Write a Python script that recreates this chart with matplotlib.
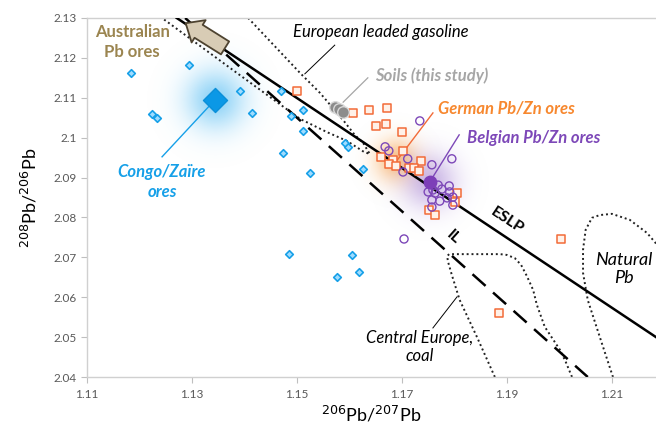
import numpy as np
import matplotlib
matplotlib.use("Agg")
import matplotlib.pyplot as plt
from matplotlib.ticker import FormatStrFormatter

plt.rcParams['font.family'] = ['Lato', 'DejaVu Sans']

# Congo / Zaire ores (206/207, 208/206)
congo_x = [1.1184, 1.1294, 1.1224, 1.1233, 1.1391, 1.1414, 1.1470, 1.1511, 1.1489, 1.1511,
           1.1473, 1.1525, 1.1591, 1.1597, 1.1626, 1.1485, 1.1605, 1.1576, 1.1618]
congo_y = [2.1162, 2.1182, 2.1059, 2.1049, 2.1117, 2.1062, 2.1117, 2.1069, 2.1054, 2.1017,
           2.0962, 2.0912, 2.0987, 2.0977, 2.0922, 2.0708, 2.0706, 2.0651, 2.0663]
congo_mean = (1.1344, 2.1095)

# German Pb/Zn ores
german_x = [1.1500, 1.1607, 1.1637, 1.1671, 1.1650, 1.1670, 1.1700, 1.1702, 1.1660, 1.1683,
            1.1675, 1.1689, 1.1736, 1.1713, 1.1723, 1.1732, 1.1805, 1.1801, 1.1751, 1.1763,
            1.2003, 1.1885]
german_y = [2.1117, 2.1062, 2.1069, 2.1074, 2.1029, 2.1034, 2.1014, 2.0967, 2.0952, 2.0944,
            2.0934, 2.0929, 2.0942, 2.0924, 2.0924, 2.0917, 2.0861, 2.0839, 2.0819, 2.0806,
            2.0746, 2.0561]
german_mean = (1.1690, 2.0942)

# Belgian Pb/Zn ores
belgian_x = [1.1734, 1.1668, 1.1675, 1.1711, 1.1795, 1.1702, 1.1757, 1.1750, 1.1759, 1.1769,
             1.1776, 1.1790, 1.1791, 1.1763, 1.1757, 1.1772, 1.1786, 1.1797, 1.1757, 1.1797,
             1.1704]
belgian_y = [2.1042, 2.0977, 2.0967, 2.0947, 2.0947, 2.0914, 2.0932, 2.0864, 2.0869, 2.0881,
             2.0871, 2.0879, 2.0864, 2.0861, 2.0844, 2.0841, 2.0849, 2.0851, 2.0826, 2.0831,
             2.0746]
belgian_mean = (1.1753, 2.0889)

# soils (this study)
soil_x = [1.1572, 1.1580, 1.1588]
soil_y = [2.1077, 2.1072, 2.1064]

# reference lines
eslp_x = [1.1271, 1.2184]
eslp_y = [2.1300, 2.0500]
il_x = [1.1287, 1.2054]
il_y = [2.1300, 2.0400]

# outlined fields
gasoline_x = [1.1407, 1.1506, 1.1544, 1.1588, 1.1610, 1.1626, 1.1635, 1.1639,
              1.1628, 1.1595, 1.1557, 1.1506, 1.1391, 1.1243]
gasoline_y = [2.1300, 2.1162, 2.1112, 2.1044, 2.1007, 2.0987, 2.0967, 2.0959,
              2.0964, 2.0992, 2.1014, 2.1047, 2.1157, 2.1300]
coal_x = [1.1877, 1.1843, 1.1810, 1.1795, 1.1788, 1.1786, 1.1790, 1.1830, 1.1887, 1.1900,
          1.1915, 1.1927, 1.1938, 1.1950, 1.1957, 1.1972, 1.2001, 1.2012, 1.2024]
coal_y = [2.0400, 2.0500, 2.0593, 2.0656, 2.0688, 2.0703, 2.0708, 2.0708, 2.0708, 2.0706,
          2.0698, 2.0681, 2.0653, 2.0618, 2.0581, 2.0526, 2.0468, 2.0438, 2.0400]
natural_x = [1.2102, 1.2077, 1.2054, 1.2045, 1.2045, 1.2050, 1.2062, 1.2077, 1.2100,
             1.2134, 1.2167, 1.2191]
natural_y = [2.0400, 2.0500, 2.0593, 2.0661, 2.0719, 2.0769, 2.0799, 2.0806, 2.0809,
             2.0794, 2.0761, 2.0724]

x_ticks = [1.11, 1.13, 1.15, 1.17, 1.19, 1.21]
y_ticks = [2.04, 2.05, 2.06, 2.07, 2.08, 2.09, 2.10, 2.11, 2.12, 2.13]

BLUE = '#16a0e8'
ORANGE = '#f26b38'
ORANGE_TXT = '#f7882f'
PURPLE = '#7d48b8'
GRAY = '#a6a6a6'
TAN = '#9b8550'

XLIM = (1.11, 1.2184)
YLIM = (2.04, 2.13)


def glow(ax, center, color, sigma_x, sigma_y, alpha):
    cx, cy = center
    xs = np.linspace(cx - 3.5 * sigma_x, cx + 3.5 * sigma_x, 200)
    ys = np.linspace(cy - 3.5 * sigma_y, cy + 3.5 * sigma_y, 200)
    X, Y = np.meshgrid(xs, ys)
    a = alpha * np.exp(-0.5 * (((X - cx) / sigma_x) ** 2 + ((Y - cy) / sigma_y) ** 2))
    img = np.zeros((200, 200, 4))
    img[..., :3] = matplotlib.colors.to_rgb(color)
    img[..., 3] = a
    ax.imshow(img, extent=(xs[0], xs[-1], ys[0], ys[-1]), origin='lower',
              aspect='auto', interpolation='bilinear', zorder=1)


fig = plt.figure(figsize=(6.56, 4.29), dpi=100)
ax = fig.add_axes([87 / 656, 52 / 429, 569 / 656, 359 / 429])

# px -> data: 5250 px per unit in x, 3990 px per unit in y
glow(ax, congo_mean, '#7fcdf6', 21 / 5250, 21 / 3990, 0.85)
glow(ax, german_mean, '#fbb060', 15 / 5250, 15 / 3990, 0.75)
glow(ax, belgian_mean, '#a987d6', 19 / 5250, 19 / 3990, 0.6)

ax.plot(gasoline_x, gasoline_y, ls=(0, (1, 1.5)), color='#222222', lw=1.4, zorder=2)
ax.plot(coal_x, coal_y, ls=(0, (1, 1.5)), color='#222222', lw=1.4, zorder=2)
ax.plot(natural_x, natural_y, ls=(0, (1, 1.5)), color='#222222', lw=1.4, zorder=2)

ax.plot(eslp_x, eslp_y, color='black', lw=1.8, zorder=3)
ax.plot(il_x, il_y, color='black', lw=1.8, ls=(0, (7, 4)), zorder=3)

ax.scatter(congo_x, congo_y, marker='D', s=15, facecolor='#9fdcff', edgecolor=BLUE,
           linewidth=1.2, zorder=4)
ax.scatter(*congo_mean, marker='D', s=150, color='#0b98e6', edgecolor='#0a8fd8', zorder=5)
ax.scatter(german_x, german_y, marker='s', s=30, facecolor='#fff1e8', edgecolor=ORANGE,
           linewidth=1.1, zorder=4)
ax.scatter(belgian_x, belgian_y, marker='o', s=34, facecolor='none', edgecolor=PURPLE,
           linewidth=1.0, zorder=4)
ax.scatter(*belgian_mean, marker='o', s=80, color='#7d3fb8', zorder=5)
ax.scatter(soil_x, soil_y, marker='o', s=70, color='#8c8c8c', edgecolor='#d9d9d9',
           linewidth=1.0, zorder=5)

# Australian ores arrow
ax.annotate('', xy=(1.1288, 2.1287), xytext=(1.1363, 2.1225),
            arrowprops=dict(arrowstyle='simple,head_length=1.1,head_width=1.9,tail_width=1.1',
                            mutation_scale=10, fc='#d8ccb5', ec='#4e4330', lw=1.3,
                            shrinkA=0, shrinkB=0), zorder=6)

# labels and leaders
ax.text(1.1186, 2.1240, 'Australian\nPb ores', color=TAN, fontsize=12, fontweight='bold',
        ha='center', va='center', linespacing=1.25)
ax.text(1.1492, 2.1265, 'European leaded gasoline', fontsize=12, style='italic',
        ha='left', va='center')
ax.plot([1.1572, 1.1515], [2.1232, 2.1160], color='black', lw=0.7, zorder=3)
ax.text(1.1649, 2.1155, 'Soils (this study)', color=GRAY, fontsize=12, style='italic',
        fontweight='bold', ha='left', va='center')
ax.plot([1.1635, 1.1588], [2.1150, 2.1089], color=GRAY, lw=0.9, zorder=3)
ax.text(1.1769, 2.1074, 'German Pb/Zn ores', color=ORANGE_TXT, fontsize=12, style='italic',
        fontweight='bold', ha='left', va='center')
ax.plot([1.1759, german_mean[0]], [2.1062, german_mean[1]], color=ORANGE, lw=1.0, zorder=3)
ax.text(1.1824, 2.0999, 'Belgian Pb/Zn ores', color=PURPLE, fontsize=12, style='italic',
        fontweight='bold', ha='left', va='center')
ax.plot([1.1809, belgian_mean[0]], [2.1007, belgian_mean[1]], color=PURPLE, lw=1.0, zorder=3)
ax.text(1.1243, 2.0889, 'Congo/Zaïre\nores', color=BLUE, fontsize=12, style='italic',
        fontweight='bold', ha='center', va='center', linespacing=1.25)
ax.plot([congo_mean[0], 1.1243], [congo_mean[1], 2.0952], color=BLUE, lw=1.0, zorder=3)
ax.text(1.1734, 2.0475, 'Central Europe,\ncoal', fontsize=12, style='italic',
        ha='center', va='center', linespacing=1.2)
ax.plot([1.1759, 1.1805], [2.0523, 2.0601], color='black', lw=0.7, zorder=3)
ax.text(1.2123, 2.0671, 'Natural\nPb', fontsize=13, style='italic',
        ha='center', va='center', linespacing=1.2)
ax.text(1.1900, 2.0791, 'ESLP', fontsize=11.5, fontweight='bold', rotation=-33.6,
        ha='center', va='center', rotation_mode='anchor')
ax.text(1.1797, 2.0751, 'IL', fontsize=11.5, fontweight='bold', rotation=-41.6,
        ha='center', va='center', rotation_mode='anchor')

ax.set_xlim(*XLIM)
ax.set_ylim(*YLIM)
ax.set_xticks(x_ticks)
ax.set_yticks(y_ticks)
ax.yaxis.set_major_formatter(FormatStrFormatter('%g'))
ax.tick_params(axis='both', direction='out', length=4, color='#bfbfbf',
               labelcolor='#595959', labelsize=8.5)
ax.tick_params(axis='x', pad=5)
for side in ['left', 'bottom', 'top']:
    ax.spines[side].set_color('#d0d0d0')
    ax.spines[side].set_linewidth(1.0)
ax.spines['right'].set_visible(False)

ax.set_xlabel(r'$^{206}$Pb/$^{207}$Pb', fontsize=13, labelpad=3)
ax.set_ylabel(r'$^{208}$Pb/$^{206}$Pb', fontsize=13, labelpad=10)

fig.savefig('out.png', dpi=100)
